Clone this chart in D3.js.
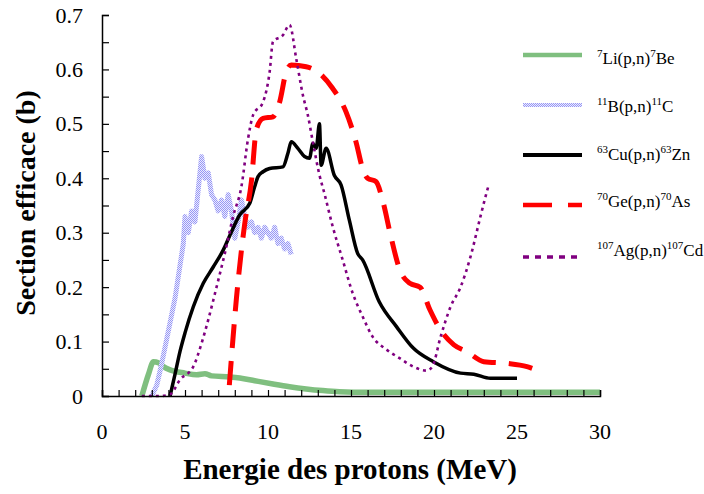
<!DOCTYPE html>
<html>
<head>
<meta charset="utf-8">
<script src="https://cdn.jsdelivr.net/npm/d3@7"></script>
<style>
  html, body { margin: 0; padding: 0; background: #fff; }
  svg { display: block; }
</style>
</head>
<body>
<svg id="chart" width="704" height="494"></svg>
<script>
// ---- Data ----
const xTicks = [0, 5, 10, 15, 20, 25, 30];
const yTicks = [0, 0.1, 0.2, 0.3, 0.4, 0.5, 0.6, 0.7];

const liE = [2.4, 2.8, 3.1, 3.4, 3.7, 4.1, 5.0, 5.7, 6.2, 6.6, 7.7, 8.3, 9.2, 10.3, 11.3, 12.3, 13.3, 14.3, 16, 18, 20, 22, 25, 28, 30];
const liS = [0, 0.04, 0.063, 0.061, 0.054, 0.048, 0.042, 0.039, 0.041, 0.037, 0.035, 0.033, 0.028, 0.022, 0.017, 0.013, 0.01, 0.008, 0.007, 0.007, 0.007, 0.007, 0.007, 0.007, 0.007];

const bE = [3.0, 3.3, 3.6, 4.0, 4.4, 4.7, 4.9, 5.0, 5.2, 5.4, 5.6, 5.8, 6.0, 6.2, 6.4, 6.6, 6.8, 7.0, 7.2, 7.4, 7.6, 7.8, 8.0, 8.2, 8.4, 8.6, 8.8, 9.0, 9.2, 9.4, 9.6, 9.8, 10.0, 10.2, 10.4, 10.6, 10.8, 11.0, 11.2, 11.4];
const bS = [0, 0.02, 0.06, 0.12, 0.18, 0.24, 0.28, 0.33, 0.30, 0.34, 0.32, 0.38, 0.44, 0.40, 0.41, 0.37, 0.36, 0.34, 0.36, 0.33, 0.37, 0.34, 0.29, 0.32, 0.36, 0.33, 0.31, 0.32, 0.30, 0.31, 0.29, 0.31, 0.30, 0.29, 0.31, 0.28, 0.29, 0.27, 0.28, 0.26];

const cuE = [4.1, 4.4, 4.7, 5.0, 5.5, 6.1, 6.7, 7.3, 7.7, 8.3, 8.9, 9.2, 9.4, 9.7, 10.1, 10.9, 11.2, 11.4, 11.8, 12.2, 12.5, 12.7, 12.9, 13.1, 13.2, 13.5, 14.0, 14.4, 14.9, 15.4, 15.7, 16.7, 17.75, 18.75, 19.96, 21.6, 22.4, 23.4, 25.0];
const cuS = [0, 0.04, 0.082, 0.116, 0.164, 0.207, 0.237, 0.268, 0.295, 0.333, 0.354, 0.385, 0.403, 0.412, 0.418, 0.421, 0.446, 0.467, 0.455, 0.44, 0.437, 0.464, 0.455, 0.50, 0.424, 0.455, 0.405, 0.388, 0.323, 0.262, 0.25, 0.173, 0.127, 0.088, 0.063, 0.042, 0.040, 0.0325, 0.0325];

const geE = [7.67, 8.1, 8.6, 9.0, 9.3, 9.7, 10.3, 10.7, 11.1, 11.4, 12.3, 13.1, 13.9, 14.7, 15.3, 15.7, 16.0, 16.5, 16.95, 17.35, 17.95, 18.55, 19.16, 19.76, 20.4, 21.2, 22.0, 23.0, 24.4, 25.6, 26.4];
const geS = [0.02, 0.18, 0.317, 0.394, 0.49, 0.51, 0.513, 0.54, 0.596, 0.608, 0.605, 0.593, 0.565, 0.522, 0.467, 0.418, 0.40, 0.394, 0.354, 0.30, 0.231, 0.207, 0.20, 0.158, 0.121, 0.094, 0.081, 0.063, 0.06, 0.054, 0.045];

const agE = [2.4, 3.5, 4.1, 4.7, 5.5, 6.0, 6.4, 6.9, 7.4, 7.9, 8.4, 8.8, 9.1, 9.7, 10.1, 10.3, 10.9, 11.3, 11.7, 12.1, 12.4, 12.7, 13.1, 13.4, 13.9, 14.5, 15.1, 15.7, 16.3, 17.15, 17.95, 18.75, 19.56, 19.9, 20.4, 21.0, 21.6, 22.2, 22.8, 23.1, 23.3];
const agS = [0, 0, 0.003, 0.03, 0.054, 0.097, 0.14, 0.20, 0.262, 0.33, 0.385, 0.473, 0.516, 0.54, 0.596, 0.651, 0.663, 0.682, 0.62, 0.553, 0.516, 0.467, 0.406, 0.372, 0.311, 0.25, 0.189, 0.146, 0.109, 0.085, 0.069, 0.054, 0.0465, 0.054, 0.109, 0.164, 0.20, 0.256, 0.33, 0.366, 0.388];

const legendSup1 = ["7", "11", "63", "70", "107"];
const legendMain1 = ["Li(p,n)", "B(p,n)", "Cu(p,n)", "Ge(p,n)", "Ag(p,n)"];
const legendSup2 = ["7", "11", "63", "70", "107"];
const legendMain2 = ["Be", "C", "Zn", "As", "Cd"];

// ---- Chart ----
const svg = d3.select("#chart");
const defs = svg.append("defs");
const pat = defs.append("pattern").attr("id", "bpat").attr("patternUnits", "userSpaceOnUse")
  .attr("width", 2).attr("height", 2);
pat.append("rect").attr("x", 0).attr("y", 0).attr("width", 2).attr("height", 2).attr("fill", "#ebebff");
pat.append("rect").attr("x", 0).attr("y", 0).attr("width", 1).attr("height", 1).attr("fill", "#9898f4");
pat.append("rect").attr("x", 1).attr("y", 1).attr("width", 1).attr("height", 1).attr("fill", "#9898f4");

const x = d3.scaleLinear().domain([0, 30]).range([102, 600]);
const y = d3.scaleLinear().domain([0, 0.7]).range([396, 15]);

const styles = [
  { E: liE, S: liS, color: "#7fbf7f", width: 5.5, dash: null, curve: d3.curveMonotoneX, lw: 4.5 },
  { E: bE, S: bS, color: "url(#bpat)", width: 5, dash: null, curve: d3.curveLinear, lw: 4 },
  { E: cuE, S: cuS, color: "#000000", width: 3.5, dash: null, curve: d3.curveMonotoneX, lw: 4 },
  { E: geE, S: geS, color: "#ff0000", width: 5, dash: "24,13", curve: d3.curveMonotoneX, lw: 4.5, ldash: "29,16" },
  { E: agE, S: agS, color: "#800080", width: 2.6, dash: "3,4", curve: d3.curveMonotoneX, lw: 3.5, ldash: "6,6" }
];

styles.forEach(s => {
  const pts = s.E.map((e, i) => [e, s.S[i]]);
  const line = d3.line().x(d => x(d[0])).y(d => y(d[1])).curve(s.curve);
  svg.append("path")
    .attr("d", line(pts))
    .attr("fill", "none")
    .attr("stroke", s.color)
    .attr("stroke-width", s.width)
    .attr("stroke-linejoin", "round")
    .attr("stroke-dasharray", s.dash);
});

// Axes
const font = "'Liberation Serif', 'Times New Roman', serif";
const ax = svg.append("g").attr("transform", "translate(0,396)")
  .call(d3.axisBottom(x).tickValues(d3.range(0, 31, 1)).tickSize(-6).tickFormat(""));
ax.select(".domain").attr("stroke", "#000").attr("stroke-width", 1.5);
ax.selectAll(".tick line").attr("stroke", "#000").attr("stroke-width", 1.2);

const ay = svg.append("g").attr("transform", "translate(102,0)")
  .call(d3.axisLeft(y).tickValues(d3.range(0, 0.7001, 0.05)).tickSize(-7).tickFormat(""));
ay.select(".domain").attr("stroke", "#000").attr("stroke-width", 1.5);
ay.selectAll(".tick line").attr("stroke", "#000").attr("stroke-width", 1.2);

svg.append("g").selectAll("text").data(xTicks).join("text")
  .attr("x", d => x(d)).attr("y", 439)
  .attr("text-anchor", "middle")
  .attr("font-family", font).attr("font-size", 22)
  .text(d => d);

svg.append("g").selectAll("text").data(yTicks).join("text")
  .attr("x", 83).attr("y", d => y(d) + 7.5)
  .attr("text-anchor", "end")
  .attr("font-family", font).attr("font-size", 22)
  .text(d => d === 0 ? "0" : d3.format(".1f")(d));

// Titles
svg.append("text")
  .attr("x", 350).attr("y", 479)
  .attr("text-anchor", "middle")
  .attr("font-family", font).attr("font-weight", "bold").attr("font-size", 29)
  .text("Energie des protons (MeV)");

svg.append("text")
  .attr("transform", "translate(35,203) rotate(-90)")
  .attr("text-anchor", "middle")
  .attr("font-family", font).attr("font-weight", "bold").attr("font-size", 28)
  .text("Section efficace (b)");

// Legend
const legLineY = [55, 105, 155, 205, 257];
const legTextY = [64, 112, 160, 207, 256];
styles.forEach((s, i) => {
  svg.append("line")
    .attr("x1", 523).attr("x2", 582)
    .attr("y1", legLineY[i]).attr("y2", legLineY[i])
    .attr("stroke", s.color)
    .attr("stroke-width", s.lw)
    .attr("stroke-dasharray", s.ldash || null);
  const t = svg.append("text")
    .attr("x", 597).attr("y", legTextY[i])
    .attr("font-family", font).attr("font-size", 17);
  t.append("tspan").attr("font-size", 11).attr("dy", -7).text(legendSup1[i]);
  t.append("tspan").attr("dy", 7).text(legendMain1[i]);
  t.append("tspan").attr("font-size", 11).attr("dy", -7).text(legendSup2[i]);
  t.append("tspan").attr("dy", 7).text(legendMain2[i]);
});
</script>
</body>
</html>
